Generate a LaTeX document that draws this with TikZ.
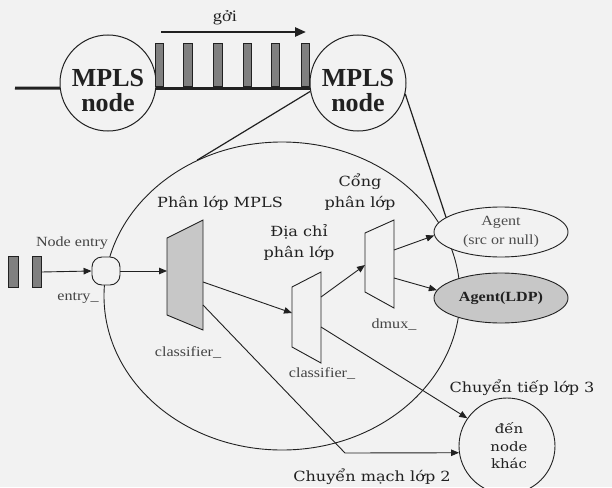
\documentclass[tikz,border=0pt]{standalone}
\usepackage{fontspec}
\setmainfont{Liberation Serif}
\newfontfamily\latinlbl[FakeStretch=1.15]{Liberation Serif}
\newfontfamily\vnlbl[FakeStretch=1.15]{DejaVu Serif}
\usetikzlibrary{shapes.geometric,arrows.meta}
\definecolor{paper}{gray}{0.95}
\definecolor{ink}{gray}{0.13}
\definecolor{shade}{gray}{0.78}
\definecolor{pktgray}{gray}{0.5}
\begin{document}
\begin{tikzpicture}[x=1pt,y=-1pt,
  wire/.style={draw=ink, line width=0.9pt},
  arrow/.style={wire, -{Triangle[length=8pt,width=6.5pt]}},
  heavy/.style={draw=ink, line width=3pt},
  packet/.style={draw=ink, fill=pktgray, line width=0.8pt, minimum width=8.5pt, minimum height=43pt, inner sep=0pt},
  mplsnode/.style={circle, draw=ink, line width=1pt, fill=paper, minimum size=96pt, inner sep=0pt},
  mplstext/.style={font=\bfseries\fontsize{26}{25}\selectfont, align=center, inner sep=0pt, text=ink},
  vntext/.style={font=\vnlbl\fontsize{14}{21}\selectfont, inner sep=0pt, text=ink, align=center},
  entext/.style={font=\latinlbl\fontsize{14}{19}\selectfont, inner sep=0pt, text=ink!85, align=center},
  agentbox/.style={ellipse, draw=ink, line width=0.9pt, minimum width=134pt, minimum height=50pt, inner sep=0pt, align=center},
  block/.style={draw=ink, line width=0.9pt, line join=miter},
]
\useasboundingbox (0,0) rectangle (612,487);
\fill[paper] (0,0) rectangle (612,487);

% ---- link between two MPLS nodes ----
\node[mplsnode] (mplsL) at (108,83) {};
\node[mplsnode] (mplsR) at (358,83) {};
\node[mplstext] (mplsLtxt) at (108,91) {MPLS\\node};
\node[mplstext] (mplsRtxt) at (358,91) {MPLS\\node};

\coordinate (leadin) at (15,88);
\draw[heavy] (leadin) -- (mplsL.186);
\draw[heavy] (mplsL.-6) -- (mplsR.186);

\foreach \i/\x in {1/159.5,2/188,3/218,4/247.5,5/275.5,6/305.5}
  \node[packet] (pk\i) at (\x,65) {};

\coordinate (flowA) at (161,32);
\coordinate (flowB) at (306,32);
\draw[draw=ink, line width=2.5pt, -{Triangle[length=11pt,width=9pt]}] (flowA) -- (flowB);
\node[font=\latinlbl\fontsize{16}{16}\selectfont, text=ink, inner sep=0pt] (flowlbl) at (225,18) {gởi};

% ---- inside of the MPLS node ----
\node[ellipse, draw=ink, line width=0.9pt, minimum width=356pt, minimum height=308pt, inner sep=0pt] (router) at (282,296) {};

% classifier (MPLS)
\coordinate (c1a) at (167,238);
\coordinate (c1b) at (203,220);
\coordinate (c1c) at (203,330);
\coordinate (c1d) at (167,315);
\draw[block, fill=shade] (c1a) -- (c1b) -- (c1c) -- (c1d) -- cycle;
\coordinate (c1in) at (167,271);
\coordinate (c1outA) at (203,282);
\coordinate (c1outB) at (203,305);

% classifier (address)
\coordinate (c2a) at (292,287);
\coordinate (c2b) at (321,272);
\coordinate (c2c) at (321,363);
\coordinate (c2d) at (292,347);
\draw[block, fill=paper] (c2a) -- (c2b) -- (c2c) -- (c2d) -- cycle;
\coordinate (c2in) at (292,313);
\coordinate (c2outA) at (321,297);
\coordinate (c2outB) at (321,327);

% port demultiplexer
\coordinate (dma) at (365,233);
\coordinate (dmb) at (394,220);
\coordinate (dmc) at (394,308);
\coordinate (dmd) at (365,292);
\draw[block, fill=paper] (dma) -- (dmb) -- (dmc) -- (dmd) -- cycle;
\coordinate (dmin) at (365,265);
\coordinate (dmoutA) at (394,250);
\coordinate (dmoutB) at (394,278);

% agents
\node[agentbox, fill=paper, font=\latinlbl\fontsize{14}{19}\selectfont, text=ink!80] (agentA) at (501,232) {Agent\\(src or null)};
\node[agentbox, fill=shade, font=\latinlbl\bfseries\fontsize{14}{16}\selectfont, text=ink] (agentB) at (501,298) {Agent(LDP)};

% entry point
\node[draw=ink, fill=paper, line width=0.9pt, rounded corners=10pt, minimum size=28pt, inner sep=0pt] (entry) at (106,271) {};
\node[packet, minimum width=10pt, minimum height=31pt] (in1) at (13,272) {};
\node[packet, minimum width=9pt, minimum height=31pt] (in2) at (36.5,272) {};

% other node
\node[circle, draw=ink, line width=0.9pt, minimum size=96pt, inner sep=0pt] (dest) at (507,446) {};
\node[vntext, font=\vnlbl\fontsize{13}{17.5}\selectfont] (destlbl) at (509,446) {đến\\node\\khác};

% connectors
\draw[wire, line width=1.2pt] (mplsR.190) -- (router.122);
\draw[wire, line width=1.2pt] (mplsR.-13) -- (agentA.165);
\draw[arrow] (in2.east) -- (entry.west);
\draw[arrow] (entry.east) -- (c1in);
\draw[arrow] (c1outA) -- (c2in);
\coordinate (l2bend) at (345,453);
\draw[arrow] (c1outB) -- (l2bend) -- (dest.188);
\draw[arrow] (c2outA) -- (dmin);
\draw[arrow] (c2outB) -- (dest.145);
\draw[arrow] (dmoutA) -- (agentA.183);
\draw[arrow] (dmoutB) -- (agentB.173);

% labels
\node[entext] (lblentry) at (72,243) {Node entry};
\node[entext] (lblentryname) at (78,298) {entry\_};
\node[entext] (lblc1) at (188,352) {classifier\_};
\node[entext] (lblc2) at (322,373) {classifier\_};
\node[entext] (lbldm) at (394,325) {dmux\_};
\node[vntext] (lblc1t) at (220,203) {Phân lớp MPLS};
\node[vntext] (lblc2t) at (299,242) {Địa chỉ\\phân lớp};
\node[vntext] (lbldmt) at (360,192) {Cổng\\phân lớp};
\node[vntext] (lblL3) at (522,388) {Chuyển tiếp lớp 3};
\node[vntext] (lblL2) at (372,477) {Chuyển mạch lớp 2};
\end{tikzpicture}
\end{document}
